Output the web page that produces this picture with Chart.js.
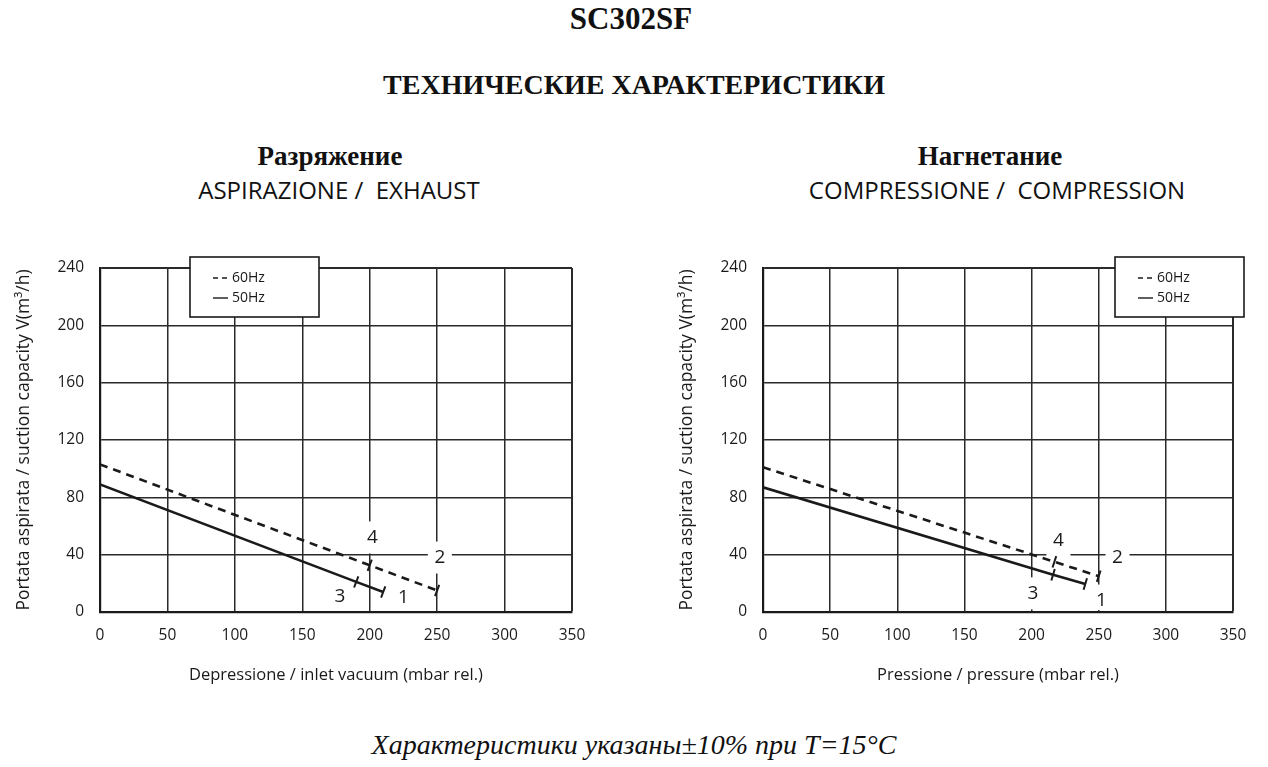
<!DOCTYPE html>
<html lang="ru">
<head>
    <meta charset="UTF-8">
    <title>SC302SF</title>
    <script src="https://cdn.jsdelivr.net/npm/chart.js"></script>
    <style>
        html, body { margin: 0; padding: 0; background: #fff; }
        body { width: 1268px; height: 767px; position: relative; overflow: hidden; color: #111; }
        .txt { position: absolute; width: 700px; text-align: center; white-space: pre; }
        .serif { font-family: "Liberation Serif", "DejaVu Serif", serif; font-weight: bold; }
        .sans { font-family: "Open Sans", "Noto Sans", sans-serif; }
        canvas { position: absolute; }
    </style>
</head>
<body>
    <div class="txt serif" style="left:281px; top:0; line-height:38px; font-size:31px;">SC302SF</div>
    <div class="txt serif" style="left:284px; top:66px; line-height:38px; font-size:28px;">ТЕХНИЧЕСКИЕ ХАРАКТЕРИСТИКИ</div>

    <div class="txt serif" style="left:-20px; top:140px; line-height:32px; font-size:27px;">Разряжение</div>
    <div class="txt sans" style="left:-11px; top:173px; line-height:34px; font-size:24px;">ASPIRAZIONE /  EXHAUST</div>
    <div class="txt serif" style="left:640px; top:140px; line-height:32px; font-size:27px;">Нагнетание</div>
    <div class="txt sans" style="left:647px; top:173px; line-height:34px; font-size:24px;">COMPRESSIONE /  COMPRESSION</div>

    <div class="txt" style="left:284px; top:727px; line-height:36px; font-size:28px; font-style:italic; font-family:'Liberation Serif', serif;">Характеристики указаны±10% при T=15°C</div>

    <canvas id="exhaustChart" style="left:0; top:240px; width:600px; height:460px;"></canvas>
    <canvas id="compressChart" style="left:663px; top:240px; width:600px; height:460px;"></canvas>

    <script>
        // --- data ---
        const seriesNames = ["60Hz", "50Hz"];

        // aspirazione / exhaust
        const exhaust60X = [0, 200, 250];
        const exhaust60Y = [103, 32.6, 15];
        const exhaust50X = [0, 190, 210];
        const exhaust50Y = [89, 21, 14];
        const exhaustMarkText = ["1", "2", "3", "4"];
        const exhaustMarkX = [225, 252, 178, 202];
        const exhaustMarkY = [10, 38, 11, 52];

        // compressione / compression
        const compress60X = [0, 217, 250];
        const compress60Y = [101, 35, 25];
        const compress50X = [0, 216, 240];
        const compress50Y = [87, 26, 19.5];
        const compressMarkText = ["1", "2", "3", "4"];
        const compressMarkX = [252, 264, 201, 220];
        const compressMarkY = [8, 38, 13, 50];

        const xTicks = [0, 50, 100, 150, 200, 250, 300, 350];
        const yTicks = [0, 40, 80, 120, 160, 200, 240];

        const SANS = "'Open Sans', 'Noto Sans', sans-serif";
        const INK = "#1a1a1a";

        function toPoints(xs, ys) {
            return xs.map((x, i) => ({ x: x, y: ys[i] }));
        }

        // white boxes + numbers (under the curves, over the grid)
        const markLabels = {
            id: "markLabels",
            beforeDatasetsDraw(chart, args, opts) {
                const ctx = chart.ctx;
                const xs = chart.scales.x, ys = chart.scales.y;
                const a = chart.chartArea;
                ctx.save();
                ctx.beginPath();
                ctx.rect(a.left + 2, a.top + 2, a.right - a.left - 4, a.bottom - a.top - 4);
                ctx.clip();
                ctx.font = "19px " + SANS;
                ctx.textAlign = "center";
                ctx.textBaseline = "middle";
                opts.text.forEach((t, i) => {
                    const px = xs.getPixelForValue(opts.x[i]);
                    const py = ys.getPixelForValue(opts.y[i]);
                    ctx.fillStyle = "#fff";
                    ctx.fillRect(px - 12, py - 16, 24, 32);
                    ctx.fillStyle = INK;
                    ctx.fillText(t, px, py);
                });
                ctx.restore();
            }
        };

        // small perpendicular caps on every point after the first
        const endCaps = {
            id: "endCaps",
            afterDatasetsDraw(chart) {
                const ctx = chart.ctx;
                ctx.save();
                ctx.strokeStyle = INK;
                ctx.lineWidth = 2;
                ctx.setLineDash([]);
                chart.data.datasets.forEach((ds, di) => {
                    const pts = chart.getDatasetMeta(di).data;
                    const a = pts[0], b = pts[pts.length - 1];
                    const ang = Math.atan2(b.y - a.y, b.x - a.x) + Math.PI / 2;
                    const dx = Math.cos(ang) * 6, dy = Math.sin(ang) * 6;
                    for (let i = 1; i < pts.length; i++) {
                        ctx.beginPath();
                        ctx.moveTo(pts[i].x - dx, pts[i].y - dy);
                        ctx.lineTo(pts[i].x + dx, pts[i].y + dy);
                        ctx.stroke();
                    }
                });
                ctx.restore();
            }
        };

        // boxed legend in the corner of the plot
        const boxLegend = {
            id: "boxLegend",
            afterDatasetsDraw(chart, args, opts) {
                const ctx = chart.ctx;
                const area = chart.chartArea;
                const bx = opts.side === "left" ? area.left + 90 : area.right - 118;
                const by = area.top - 11;
                ctx.save();
                ctx.fillStyle = "#fff";
                ctx.fillRect(bx, by, 129, 60);
                ctx.strokeStyle = INK;
                ctx.lineWidth = 1.6;
                ctx.strokeRect(bx, by, 129, 60);
                ctx.font = "14px " + SANS;
                ctx.textBaseline = "middle";
                ctx.fillStyle = INK;
                ctx.lineWidth = 1.4;
                chart.data.datasets.forEach((ds, i) => {
                    const ly = by + 21 + i * 20;
                    ctx.setLineDash(ds.borderDash && ds.borderDash.length ? [5, 4] : []);
                    ctx.beginPath();
                    ctx.moveTo(bx + 23, ly);
                    ctx.lineTo(bx + 38, ly);
                    ctx.stroke();
                    ctx.fillText(ds.label, bx + 42, ly);
                });
                ctx.restore();
            }
        };

        function makeChart(id, xTitle, d60, d50, marks, legendSide, padRight) {
            const ctx = document.getElementById(id).getContext("2d");
            return new Chart(ctx, {
                type: "line",
                data: {
                    datasets: [{
                        label: seriesNames[0],
                        data: d60,
                        borderColor: INK,
                        borderWidth: 2.6,
                        borderDash: [8, 6],
                        pointRadius: 0,
                        fill: false
                    }, {
                        label: seriesNames[1],
                        data: d50,
                        borderColor: INK,
                        borderWidth: 2.6,
                        pointRadius: 0,
                        fill: false
                    }]
                },
                options: {
                    responsive: false,
                    animation: false,
                    devicePixelRatio: 1,
                    layout: { padding: { top: 28, right: padRight, left: 0, bottom: 0 } },
                    plugins: {
                        legend: { display: false },
                        tooltip: { enabled: false },
                        markLabels: marks,
                        boxLegend: { side: legendSide }
                    },
                    scales: {
                        x: {
                            type: "linear",
                            min: xTicks[0],
                            max: xTicks[xTicks.length - 1],
                            afterBuildTicks: s => { s.ticks = xTicks.map(v => ({ value: v })); },
                            afterFit: s => { s.height = 88; },
                            grid: {
                                color: "#2a2a2a",
                                lineWidth: c => (c.tick && c.tick.value === 350 ? 2 : 1.5),
                                drawTicks: false
                            },
                            border: { color: INK, width: 2.2 },
                            ticks: { color: INK, padding: 14, font: { size: 15.5, family: SANS } },
                            title: {
                                display: true,
                                text: xTitle,
                                color: INK,
                                padding: { top: 0, bottom: 15 },
                                font: { size: 16.5, family: SANS }
                            }
                        },
                        y: {
                            min: yTicks[0],
                            max: yTicks[yTicks.length - 1],
                            afterBuildTicks: s => { s.ticks = yTicks.map(v => ({ value: v })); },
                            afterFit: s => { s.width = 100; },
                            grid: {
                                color: "#2a2a2a",
                                lineWidth: c => (c.tick && c.tick.value === 240 ? 2 : 1.5),
                                drawTicks: false
                            },
                            border: { color: INK, width: 2.2 },
                            ticks: { color: INK, padding: 16, font: { size: 15.5, family: SANS } },
                            title: {
                                display: true,
                                text: "Portata aspirata / suction capacity V(m³/h)",
                                color: INK,
                                padding: { top: 14, bottom: 0 },
                                font: { size: 17.5, family: SANS }
                            }
                        }
                    }
                },
                plugins: [markLabels, endCaps, boxLegend]
            });
        }

        function setup(id) {
            const c = document.getElementById(id);
            c.width = 600;
            c.height = 460;
        }
        setup("exhaustChart");
        setup("compressChart");

        makeChart("exhaustChart",
            "Depressione / inlet vacuum (mbar rel.)",
            toPoints(exhaust60X, exhaust60Y),
            toPoints(exhaust50X, exhaust50Y),
            { text: exhaustMarkText, x: exhaustMarkX, y: exhaustMarkY },
            "left", 28);

        makeChart("compressChart",
            "Pressione / pressure (mbar rel.)",
            toPoints(compress60X, compress60Y),
            toPoints(compress50X, compress50Y),
            { text: compressMarkText, x: compressMarkX, y: compressMarkY },
            "right", 30);
    </script>
</body>
</html>
